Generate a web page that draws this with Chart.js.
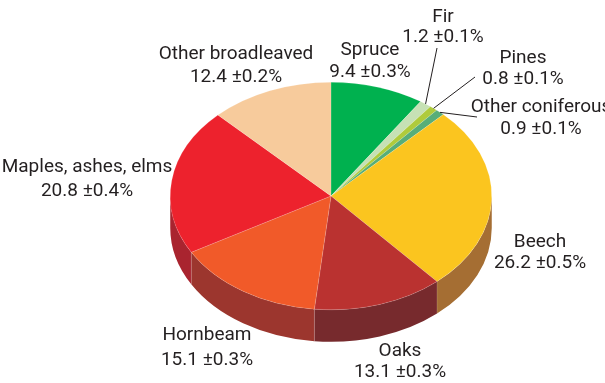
<!DOCTYPE html>
<html>
<head>
<meta charset="utf-8">
<style>
  html, body { margin: 0; padding: 0; background: #fff; }
  #wrap { width: 605px; height: 383px; position: relative; }
</style>
<script src="https://cdn.jsdelivr.net/npm/chart.js@4/dist/chart.umd.min.js"></script>
</head>
<body>
<div id="wrap"><canvas id="pie" width="605" height="383"></canvas></div>
<script>
// Forest species shares, clockwise from twelve o'clock
const species = ['Spruce', 'Fir', 'Pines', 'Other coniferous', 'Beech', 'Oaks', 'Hornbeam', 'Maples, ashes, elms', 'Other broadleaved'];
const shares = [9.4, 1.2, 0.8, 0.9, 26.2, 13.1, 15.1, 20.8, 12.4];
const errors = [0.3, 0.1, 0.1, 0.1, 0.5, 0.3, 0.3, 0.4, 0.2];
const topColors = ['#00B14F', '#C6E1B5', '#AFCB3C', '#58AE78', '#FBC51F', '#BA3230', '#F15A29', '#ED222D', '#F7CB9C'];
const wallColors = ['#00803A', '#90A383', '#7F932C', '#3F7E57', '#A56E33', '#772A2D', '#9C362E', '#A9242F', '#B39471'];

// Label anchors: centre x, first and second line y
const labelSpots = [
  [370, 50, 72], [443, 17, 37], [523, 58, 79], [541, 107, 129],
  [540, 242, 263], [400, 351, 372], [207, 335, 360], [87, 167, 191], [236, 54, 77]
];
// Leader line ends for the thin slices (index -> outer end)
const leaderEnds = { 1: [437, 48], 2: [475, 77], 3: [477, 117] };

const TILT = 0.708;      // vertical squash of the disc
const DEPTH = 32;        // height of the side wall
const CENTER_Y = 196;    // centre of the top face on the page
const INK = '#231F20';

const faceY = (chart, y) => CENTER_Y + (y - chart.getDatasetMeta(0).data[0].y) * TILT;

const tiltedPie = {
  id: 'tiltedPie',
  beforeDatasetsDraw(chart) {
    const { ctx } = chart;
    const arcs = chart.getDatasetMeta(0).data;
    const cx = arcs[0].x, r = arcs[0].outerRadius, ry = r * TILT;
    // Side wall: only the part of each slice that faces the viewer
    arcs.forEach((arc, i) => {
      const a0 = Math.max(arc.startAngle, 0);
      const a1 = Math.min(arc.endAngle, Math.PI);
      if (a1 <= a0) return;
      ctx.save();
      ctx.beginPath();
      ctx.ellipse(cx, CENTER_Y, r, ry, 0, a0, a1);
      ctx.ellipse(cx, CENTER_Y + DEPTH, r, ry, 0, a1, a0, true);
      ctx.closePath();
      ctx.fillStyle = wallColors[i];
      ctx.fill();
      ctx.lineWidth = 0.6;
      ctx.strokeStyle = 'rgba(255,255,255,0.25)';
      ctx.beginPath();
      if (arc.startAngle > 0) {
        const x = cx + r * Math.cos(a0), y = CENTER_Y + ry * Math.sin(a0);
        ctx.moveTo(x, y);
        ctx.lineTo(x, y + DEPTH);
      }
      ctx.stroke();
      ctx.restore();
    });
    // The library's arcs are drawn inside this squashed frame
    ctx.save();
    ctx.translate(0, CENTER_Y);
    ctx.scale(1, TILT);
    ctx.translate(0, -arcs[0].y);
  },
  afterDatasetsDraw(chart) {
    const { ctx } = chart;
    ctx.restore();
    const arcs = chart.getDatasetMeta(0).data;
    const cx = arcs[0].x, r = arcs[0].outerRadius, ry = r * TILT;

    // Leader lines for the thin slices
    ctx.save();
    ctx.strokeStyle = INK;
    ctx.lineWidth = 1;
    Object.keys(leaderEnds).forEach((k) => {
      const arc = arcs[k];
      const mid = (arc.startAngle + arc.endAngle) / 2;
      ctx.beginPath();
      ctx.moveTo(cx + r * Math.cos(mid), CENTER_Y + ry * Math.sin(mid));
      ctx.lineTo(leaderEnds[k][0], leaderEnds[k][1]);
      ctx.stroke();
    });

    // Two-line labels: species name and share with its margin
    ctx.fillStyle = INK;
    ctx.font = '19px "Liberation Sans Narrow", "Roboto", sans-serif';
    ctx.textAlign = 'center';
    ctx.textBaseline = 'middle';
    species.forEach((name, i) => {
      const [x, y1, y2] = labelSpots[i];
      ctx.fillText(name, x, y1);
      ctx.fillText(shares[i].toFixed(1) + ' \u00B1' + errors[i].toFixed(1) + '%', x, y2);
    });
    ctx.restore();
  }
};

new Chart(document.getElementById('pie'), {
  type: 'pie',
  data: {
    labels: species,
    datasets: [{
      data: shares,
      backgroundColor: topColors,
      borderWidth: 0.5,
      borderColor: 'rgba(255,255,255,0.35)',
      clip: false
    }]
  },
  options: {
    responsive: false,
    animation: false,
    layout: { padding: { left: 170, right: 113, top: 30, bottom: 31 } },
    plugins: { legend: { display: false }, tooltip: { enabled: false } }
  },
  plugins: [tiltedPie]
});
</script>
</body>
</html>
